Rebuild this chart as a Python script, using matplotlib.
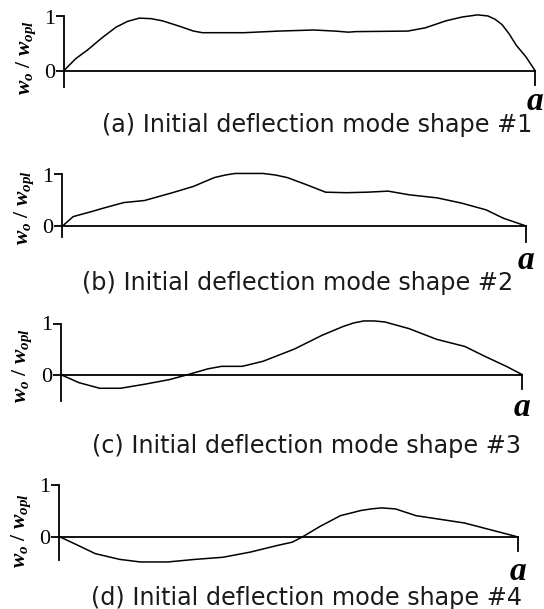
import matplotlib
matplotlib.use("Agg")
import matplotlib.pyplot as plt

# ------------------------------
# Data: normalised position along the plate (0..a) and w_o / w_opl
# ------------------------------
x_a = [0.0, 0.025, 0.05, 0.08, 0.11, 0.135, 0.16, 0.185, 0.209, 0.245, 0.275, 0.294, 0.382,
       0.456, 0.53, 0.575, 0.604, 0.619, 0.73, 0.767, 0.811, 0.845, 0.878, 0.9, 0.915,
       0.93, 0.945, 0.96, 0.981, 1.0]
w_a = [0.0, 0.22, 0.38, 0.6, 0.8, 0.91, 0.97, 0.96, 0.92, 0.82, 0.73, 0.70, 0.70,
       0.73, 0.75, 0.73, 0.71, 0.72, 0.73, 0.79, 0.92, 0.99, 1.03, 1.01, 0.95,
       0.85, 0.68, 0.47, 0.25, 0.0]

x_b = [0.0, 0.024, 0.065, 0.088, 0.133, 0.178, 0.238, 0.283, 0.328, 0.352, 0.373, 0.433,
       0.46, 0.486, 0.531, 0.568, 0.613, 0.658, 0.703, 0.748, 0.809, 0.861, 0.914, 0.951, 1.0]
w_b = [0.0, 0.19, 0.29, 0.35, 0.46, 0.50, 0.65, 0.77, 0.94, 0.99, 1.02, 1.02,
       0.99, 0.94, 0.79, 0.66, 0.65, 0.66, 0.68, 0.61, 0.55, 0.45, 0.32, 0.16, 0.01]

x_c = [0.0, 0.04, 0.085, 0.13, 0.183, 0.236, 0.277, 0.319, 0.349, 0.394, 0.439,
       0.507, 0.567, 0.612, 0.635, 0.657, 0.68, 0.703, 0.755, 0.815, 0.876, 0.921, 0.966, 1.0]
w_c = [0.0, -0.16, -0.27, -0.27, -0.19, -0.10, 0.0, 0.11, 0.16, 0.16, 0.26,
       0.50, 0.77, 0.94, 1.01, 1.05, 1.05, 1.03, 0.90, 0.69, 0.55, 0.35, 0.16, 0.0]

x_d = [0.0, 0.034, 0.079, 0.132, 0.177, 0.237, 0.297, 0.357, 0.417, 0.477, 0.508,
       0.53, 0.568, 0.613, 0.658, 0.68, 0.703, 0.733, 0.778, 0.823, 0.883, 0.944, 0.996]
w_d = [0.01, -0.13, -0.32, -0.43, -0.48, -0.48, -0.43, -0.39, -0.29, -0.16, -0.10,
       0.0, 0.20, 0.41, 0.51, 0.54, 0.56, 0.54, 0.41, 0.35, 0.27, 0.13, 0.01]

captions = ["(a) Initial deflection mode shape #1",
            "(b) Initial deflection mode shape #2",
            "(c) Initial deflection mode shape #3",
            "(d) Initial deflection mode shape #4"]
y_ticks = [0, 1]
y_ticklabels = ["0", "1"]

series = [(x_a, w_a), (x_b, w_b), (x_c, w_c), (x_d, w_d)]

# ------------------------------
# Layout (pixels): axis x, end x, y of zero, y of one
# ------------------------------
W, H = 544, 609
panels = [
    dict(x0=64, x1=535, y0=70.5, y1=16.5, axbot=-0.30, rtick=-0.26, ylab=0.25, cap_x=532, cap_y=125, a_dy=31),
    dict(x0=62, x1=526, y0=226.5, y1=174.5, axbot=-0.20, rtick=-0.29, ylab=0.36, cap_x=513, cap_y=283, a_dy=34),
    dict(x0=60.5, x1=522, y0=374.5, y1=323.5, axbot=-0.52, rtick=-0.29, ylab=0.17, cap_x=521, cap_y=446, a_dy=33),
    dict(x0=59, x1=518, y0=537, y1=485, axbot=-0.44, rtick=-0.27, ylab=0.12, cap_x=522, cap_y=598, a_dy=35),
]

plt.rcParams["mathtext.fontset"] = "custom"
plt.rcParams["mathtext.rm"] = "Liberation Serif:bold"
plt.rcParams["mathtext.it"] = "Liberation Serif:bold:italic"

fig = plt.figure(figsize=(W / 100, H / 100), dpi=100)

YMIN, YMAX = -0.7, 1.2
for (xs, ws), p, cap in zip(series, panels, captions):
    s = p["y0"] - p["y1"]                      # px per unit
    top_px = p["y1"] - (YMAX - 1) * s
    bot_px = p["y0"] - YMIN * s
    ax = fig.add_axes([p["x0"] / W, 1 - bot_px / H,
                       (p["x1"] - p["x0"]) / W, (bot_px - top_px) / H])
    ax.set_xlim(0, 1)
    ax.set_ylim(YMIN, YMAX)
    ax.patch.set_visible(False)

    ax.plot(xs, ws, color="black", lw=1.1, clip_on=False,
            solid_joinstyle="round", solid_capstyle="round")

    ax.spines["top"].set_visible(False)
    ax.spines["left"].set_bounds(p["axbot"], 1)
    ax.spines["bottom"].set_position(("data", 0))
    ax.spines["bottom"].set_bounds(0, 1)
    ax.spines["right"].set_position(("data", 1))
    ax.spines["right"].set_bounds(p["rtick"], 0)
    for sp in ax.spines.values():
        sp.set_linewidth(1.3)

    ax.set_xticks([])
    ax.set_yticks(y_ticks)
    ax.set_yticklabels(y_ticklabels, fontfamily="Liberation Serif", fontsize=16)
    ax.tick_params(axis="y", direction="out", length=6, width=1.3, pad=0)

    xw = p["x1"] - p["x0"]
    ax.text(-38 / xw, p["ylab"], r"$w_o\ /\ w_{opl}$", rotation=90,
            ha="center", va="center", fontsize=15.5)
    ax.text(1.0, -p["a_dy"] / s, "a", fontfamily="Liberation Serif",
            fontstyle="italic", fontweight="bold", fontsize=24,
            ha="center", va="center")
    fig.text(p["cap_x"] / W, 1 - p["cap_y"] / H, cap, fontfamily="DejaVu Sans",
             fontsize=17.2, ha="right", va="center", color="#1a1a1a")

fig.savefig("out.png", dpi=100)
